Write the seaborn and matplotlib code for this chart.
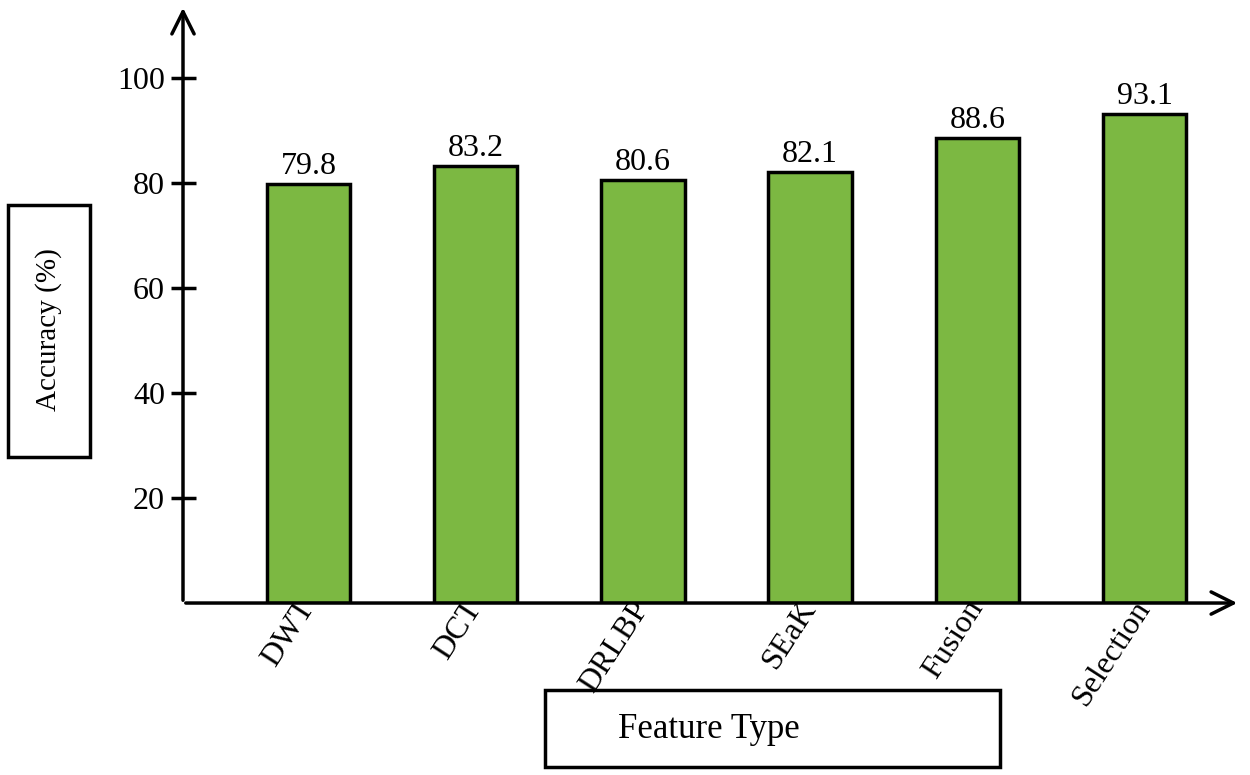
import matplotlib
matplotlib.use("Agg")
import matplotlib.pyplot as plt
import matplotlib.transforms as mtransforms
import seaborn as sns
import pandas as pd

categories = ["DWT", "DCT", "DRLBP", "SEaK", "Fusion", "Selection"]
accuracy = [79.8, 83.2, 80.6, 82.1, 88.6, 93.1]
yticks = [20, 40, 60, 80, 100]

sns.set_theme(style="white")
plt.rcParams["font.family"] = ["Liberation Serif", "DejaVu Serif"]
plt.rcParams["text.color"] = "black"
plt.rcParams["xtick.color"] = "black"
plt.rcParams["ytick.color"] = "black"
plt.rcParams["xtick.labelcolor"] = "black"
plt.rcParams["ytick.labelcolor"] = "black"

df = pd.DataFrame({"Feature": categories, "Accuracy": accuracy})

fig = plt.figure(figsize=(12.5, 7.75), dpi=100)
ax = fig.add_axes([0.1464, 0.2219, 0.8456, 0.7716])
sns.barplot(data=df, x="Feature", y="Accuracy", ax=ax, color="#7CB842",
            saturation=1, width=0.5, edgecolor="black", linewidth=2.5)

ax.set_xlim(-0.75, 5.57)
ax.set_ylim(0, 113.9)
ax.set_yticks(yticks)
ax.set_yticklabels([str(t) for t in yticks], fontsize=23)
ax.set_xticks(range(len(categories)))
ax.set_xticklabels(categories, rotation=57, ha="right", va="center",
                   rotation_mode="anchor", fontsize=23)
offset = mtransforms.ScaledTranslation(10 / 100, 2 / 100, fig.dpi_scale_trans)
for lbl in ax.get_xticklabels():
    lbl.set_transform(lbl.get_transform() + offset)
ax.tick_params(axis="y", direction="inout", length=18, width=2.5, pad=4, left=True)
ax.tick_params(axis="x", length=0, pad=0)
ax.set_xlabel("")
ax.set_ylabel("")
for s in ax.spines.values():
    s.set_visible(False)

for i, v in enumerate(accuracy):
    ax.text(i, v + 0.6, f"{v:.1f}", ha="center", va="bottom", fontsize=23)

# arrow axes
ax.annotate("", xy=(0, 1.0), xytext=(0, 0), xycoords="axes fraction",
            arrowprops=dict(arrowstyle="->", lw=2.5, color="black", mutation_scale=40),
            annotation_clip=False)
ax.annotate("", xy=(1.0, 0), xytext=(0, 0), xycoords="axes fraction",
            arrowprops=dict(arrowstyle="->", lw=2.5, color="black", mutation_scale=40),
            annotation_clip=False)

# boxed axis labels
fig.text(49 / 1250, 1 - 330 / 775, "Accuracy (%)", rotation=90, ha="center", va="center",
         fontsize=21)
fig.patches.append(plt.Rectangle((8 / 1250, 1 - 457 / 775), 82 / 1250, 252 / 775,
                                 transform=fig.transFigure, fill=False, lw=2.5, ec="black"))
fig.text(709 / 1250, 1 - 730 / 775, "Feature Type", ha="center", va="center", fontsize=25)
fig.patches.append(plt.Rectangle((545 / 1250, 1 - 767 / 775), 455 / 1250, 77 / 775,
                                 transform=fig.transFigure, fill=False, lw=2.5, ec="black"))

fig.savefig("out.png", dpi=100)
